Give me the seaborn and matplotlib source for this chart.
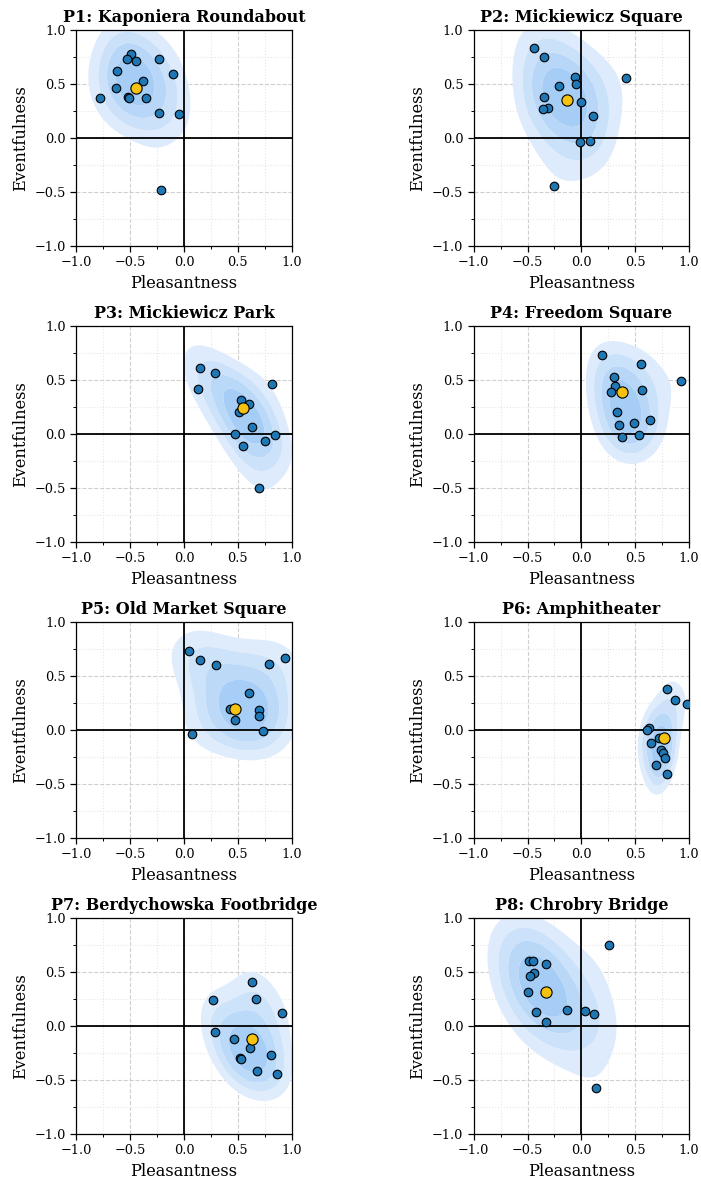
import numpy as np
import pandas as pd
import matplotlib
matplotlib.use("Agg")
import matplotlib.pyplot as plt
from matplotlib.ticker import MultipleLocator
from matplotlib.colors import LinearSegmentedColormap
import seaborn as sns

titles = ["P1: Kaponiera Roundabout", "P2: Mickiewicz Square", "P3: Mickiewicz Park",
          "P4: Freedom Square", "P5: Old Market Square", "P6: Amphitheater",
          "P7: Berdychowska Footbridge", "P8: Chrobry Bridge"]

p1_x = [-0.49, -0.53, -0.45, -0.23, -0.62, -0.10, -0.38, -0.635, -0.78, -0.52, -0.51, -0.35, -0.23, -0.045, -0.215]
p1_y = [0.78, 0.73, 0.71, 0.73, 0.62, 0.59, 0.53, 0.46, 0.37, 0.38, 0.37, 0.37, 0.23, 0.22, -0.48]
p2_x = [-0.44, -0.343, -0.062, -0.05, -0.204, 0.414, -0.346, -0.006, -0.312, -0.36, 0.105, -0.012, 0.077, -0.25]
p2_y = [0.835, 0.754, 0.56, 0.50, 0.485, 0.556, 0.38, 0.334, 0.278, 0.266, 0.198, -0.04, -0.031, -0.448]
p3_x = [0.148, 0.29, 0.813, 0.127, 0.529, 0.606, 0.51, 0.544, 0.627, 0.47, 0.844, 0.751, 0.55, 0.699]
p3_y = [0.615, 0.56, 0.46, 0.414, 0.315, 0.275, 0.204, 0.24, 0.059, 0.0, -0.015, -0.071, -0.114, -0.504]
p4_x = [0.195, 0.556, 0.927, 0.303, 0.315, 0.275, 0.563, 0.328, 0.64, 0.485, 0.352, 0.374, 0.532]
p4_y = [0.73, 0.649, 0.488, 0.525, 0.448, 0.386, 0.408, 0.204, 0.13, 0.102, 0.08, -0.028, -0.012]
p5_x = [0.046, 0.148, 0.294, 0.785, 0.937, 0.606, 0.43, 0.475, 0.692, 0.692, 0.47, 0.733, 0.074]
p5_y = [0.733, 0.649, 0.597, 0.609, 0.665, 0.343, 0.189, 0.19, 0.182, 0.127, 0.09, -0.012, -0.043]
p6_x = [0.794, 0.872, 0.985, 0.624, 0.612, 0.717, 0.649, 0.742, 0.757, 0.779, 0.692, 0.794, 0.765]
p6_y = [0.377, 0.281, 0.238, 0.015, -0.006, -0.08, -0.124, -0.192, -0.219, -0.26, -0.325, -0.408, -0.08]
p7_x = [0.631, 0.665, 0.266, 0.912, 0.287, 0.46, 0.615, 0.804, 0.516, 0.525, 0.68, 0.866, 0.634]
p7_y = [0.408, 0.25, 0.235, 0.117, -0.056, -0.121, -0.207, -0.269, -0.297, -0.306, -0.417, -0.445, -0.121]
p8_x = [0.253, -0.488, -0.445, -0.325, -0.436, -0.479, -0.495, -0.423, -0.133, 0.037, 0.114, -0.331, 0.139]
p8_y = [0.754, 0.60, 0.597, 0.578, 0.491, 0.464, 0.315, 0.127, 0.145, 0.133, 0.105, 0.037, -0.581]

median_x = [-0.45, -0.133, 0.544, 0.374, 0.473, 0.764, 0.634, -0.331]
median_y = [0.465, 0.355, 0.238, 0.386, 0.189, -0.08, -0.121, 0.315]

xs = [p1_x, p2_x, p3_x, p4_x, p5_x, p6_x, p7_x, p8_x]
ys = [p1_y, p2_y, p3_y, p4_y, p5_y, p6_y, p7_y, p8_y]

sns.set_style("ticks")
plt.rcParams["font.family"] = ["DejaVu Serif"]
for key in ["text.color", "axes.labelcolor", "xtick.color", "ytick.color", "axes.edgecolor"]:
    plt.rcParams[key] = "black"

kde_cmap = LinearSegmentedColormap.from_list("kde", ["#e6f0fd", "#9cc8f5"])

fig, axes = plt.subplots(4, 2, figsize=(7.01, 11.83), dpi=100)
fig.subplots_adjust(left=0.109, right=0.983, top=0.9746, bottom=0.0418, wspace=0.845, hspace=0.3735)

for i, ax in enumerate(axes.flat):
    df = pd.DataFrame({"Pleasantness": xs[i], "Eventfulness": ys[i]})
    ax.set_xlim(-1, 1)
    ax.set_ylim(-1, 1)
    ax.xaxis.set_major_locator(MultipleLocator(0.5))
    ax.yaxis.set_major_locator(MultipleLocator(0.5))
    ax.xaxis.set_minor_locator(MultipleLocator(0.25))
    ax.yaxis.set_minor_locator(MultipleLocator(0.25))
    ax.grid(which="major", color="#cfcfcf", linestyle="--", linewidth=0.8, zorder=0)
    ax.grid(which="minor", color="#e6e6e6", linestyle=":", linewidth=0.8, zorder=0)
    ax.set_axisbelow(True)
    sns.kdeplot(data=df, x="Pleasantness", y="Eventfulness", ax=ax, fill=True,
                levels=5, thresh=0.28, cmap=kde_cmap, bw_adjust=1.45, zorder=1,
                antialiased=True)
    ax.axhline(0, color="black", linewidth=1.3, zorder=2)
    ax.axvline(0, color="black", linewidth=1.3, zorder=2)
    sns.scatterplot(data=df, x="Pleasantness", y="Eventfulness", ax=ax, color="#1f77b4",
                    edgecolor="black", linewidth=0.8, s=38, zorder=3)
    ax.scatter([median_x[i]], [median_y[i]], color="#f5c211", edgecolor="black",
               linewidth=0.8, s=65, zorder=4)
    ax.set_xlim(-1, 1)
    ax.set_ylim(-1, 1)
    ax.set_title(titles[i], fontsize=11.5, fontweight="bold", pad=6)
    ax.set_xlabel("Pleasantness", fontsize=11.7, labelpad=4)
    ax.set_ylabel("Eventfulness", fontsize=11.7, labelpad=4)
    ax.tick_params(which="major", labelsize=9.3, length=4, width=0.9, pad=3.5)
    ax.tick_params(which="minor", length=2, width=0.7)
    for sp in ax.spines.values():
        sp.set_visible(True)
        sp.set_linewidth(0.9)
        sp.set_color("black")

fig.savefig("out.png", dpi=100)
